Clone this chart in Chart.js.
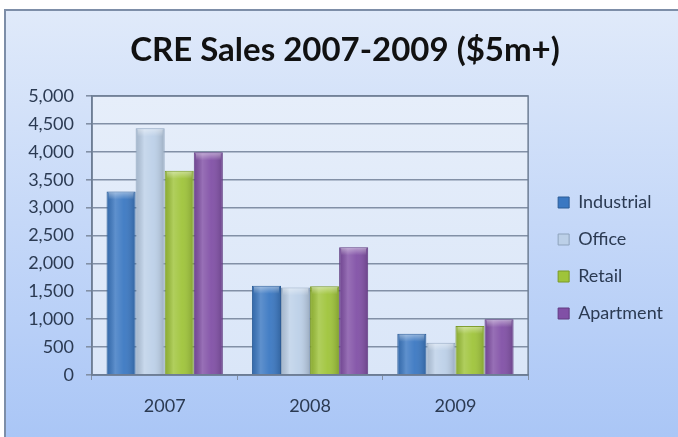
<!DOCTYPE html>
<html>
<head>
<meta charset="utf-8">
<script src="https://cdn.jsdelivr.net/npm/chart.js@4.4.1/dist/chart.umd.min.js"></script>
<style>
  html, body { margin: 0; padding: 0; background: #ffffff; }
  #wrap { position: relative; width: 678px; height: 437px; }
</style>
</head>
<body>
<div id="wrap"><canvas id="chart" width="678" height="437"></canvas></div>
<script>
// CRE sales by property type, $5m+ deals
const years = ['2007', '2008', '2009'];
const industrial = [3290, 1600, 740];
const office = [4420, 1570, 580];
const retail = [3660, 1590, 880];
const apartment = [3990, 2290, 1000];
const yTicks = [0, 500, 1000, 1500, 2000, 2500, 3000, 3500, 4000, 4500, 5000];

const seriesNames = ['Industrial', 'Office', 'Retail', 'Apartment'];
const seriesColors = ['#3b78c2', '#bcd0e8', '#9fc43a', '#8150a6'];
const seriesBorders = ['#2c5c96', '#8ea3bd', '#7a9a26', '#603a80'];

const textColor = '#2b3a52';
const gridColor = '#8290a6';

// Outer panel: light blue gradient with a thin frame
const panelPlugin = {
    id: 'panel',
    beforeDraw: (chart) => {
        const {ctx, width, height} = chart;
        ctx.save();
        const g = ctx.createLinearGradient(0, 10, 0, height);
        g.addColorStop(0, '#e0eafa');
        g.addColorStop(1, '#aac6f6');
        ctx.fillStyle = g;
        ctx.fillRect(5, 10, width, height);
        ctx.strokeStyle = '#7d8ea8';
        ctx.lineWidth = 2;
        ctx.beginPath();
        ctx.moveTo(5, height);
        ctx.lineTo(5, 10);
        ctx.lineTo(width, 10);
        ctx.stroke();

        // plot area fill
        const a = chart.chartArea;
        if (a) {
            const pg = ctx.createLinearGradient(0, a.top, 0, a.bottom);
            pg.addColorStop(0, '#e6eefa');
            pg.addColorStop(1, '#dae6f8');
            ctx.fillStyle = pg;
            ctx.fillRect(a.left, a.top, a.right - a.left, a.bottom - a.top);
        }
        ctx.restore();
    },
    afterDraw: (chart) => {
        const {ctx, chartArea: a} = chart;
        ctx.save();
        ctx.strokeStyle = '#6d7d94';
        ctx.lineWidth = 1.5;
        ctx.strokeRect(a.left, a.top, a.right - a.left, a.bottom - a.top);
        ctx.restore();
    }
};

// Nudge legend and title a little, like the original
const layoutNudge = {
    id: 'layoutNudge',
    afterLayout: (chart) => {
        const lg = chart.legend;
        if (lg) {
            lg.left += 11; lg.right += 11;
            lg.top += 24; lg.bottom += 24;
        }
        const tb = chart.titleBlock;
        if (tb) {
            tb.left += 14; tb.right += 14;
        }
    }
};

// Cylinder-like shading over each bar
const shadePlugin = {
    id: 'shade',
    afterDatasetsDraw: (chart) => {
        const {ctx} = chart;
        ctx.save();
        chart.data.datasets.forEach((ds, di) => {
            const meta = chart.getDatasetMeta(di);
            meta.data.forEach((bar) => {
                const left = bar.x - bar.width / 2;
                const right = bar.x + bar.width / 2;
                const top = bar.y;
                const h = bar.base - bar.y;
                const g = ctx.createLinearGradient(left, 0, right, 0);
                g.addColorStop(0, 'rgba(0,0,0,0.12)');
                g.addColorStop(0.3, 'rgba(255,255,255,0.18)');
                g.addColorStop(0.6, 'rgba(255,255,255,0.05)');
                g.addColorStop(1, 'rgba(0,0,0,0.18)');
                ctx.fillStyle = g;
                ctx.fillRect(left + 1, top + 1, bar.width - 2, h - 1);
                const cap = Math.min(8, h);
                const tg = ctx.createLinearGradient(0, top, 0, top + cap);
                tg.addColorStop(0, 'rgba(255,255,255,0.45)');
                tg.addColorStop(1, 'rgba(255,255,255,0)');
                ctx.fillStyle = tg;
                ctx.fillRect(left + 2, top + 1, bar.width - 4, cap);
            });
        });
        ctx.restore();
    }
};

const allSeries = [industrial, office, retail, apartment];

new Chart(document.getElementById('chart'), {
    type: 'bar',
    data: {
        labels: years,
        datasets: allSeries.map((vals, i) => ({
            label: seriesNames[i],
            data: vals,
            backgroundColor: seriesColors[i],
            borderColor: seriesBorders[i],
            borderWidth: 1,
            categoryPercentage: 0.8,
            barPercentage: 1.0
        }))
    },
    options: {
        responsive: false,
        animation: false,
        layout: { padding: { left: 0, right: 16, top: 31, bottom: 0 } },
        scales: {
            x: {
                grid: {
                    drawOnChartArea: false,
                    drawTicks: true,
                    tickLength: 5,
                    color: gridColor
                },
                border: { display: true, color: '#6d7d94', width: 1.5 },
                ticks: {
                    color: textColor,
                    font: { family: 'Lato', size: 18 },
                    padding: 15
                },
                afterFit: (s) => { s.height = 62; }
            },
            y: {
                min: 0,
                max: 5000,
                afterBuildTicks: (s) => { s.ticks = yTicks.map(v => ({ value: v })); },
                grid: {
                    color: gridColor,
                    lineWidth: 1.6,
                    tickLength: 6
                },
                border: { display: true, color: '#6d7d94', width: 1.5 },
                ticks: {
                    color: textColor,
                    font: { family: 'Lato', size: 18 },
                    padding: 12,
                    callback: (v) => v.toLocaleString('en-US')
                },
                afterFit: (s) => { s.width = 92; }
            }
        },
        plugins: {
            title: {
                display: true,
                text: 'CRE Sales 2007-2009 ($5m+)',
                color: '#111111',
                font: { family: 'Lato', size: 33, weight: 'bold' },
                padding: { top: 0, bottom: 25.4 }
            },
            legend: {
                position: 'right',
                labels: {
                    color: textColor,
                    font: { family: 'Lato', size: 18 },
                    boxWidth: 11,
                    boxHeight: 11,
                    padding: 19
                }
            },
            tooltip: { enabled: false }
        }
    },
    plugins: [panelPlugin, layoutNudge, shadePlugin]
});
</script>
</body>
</html>
